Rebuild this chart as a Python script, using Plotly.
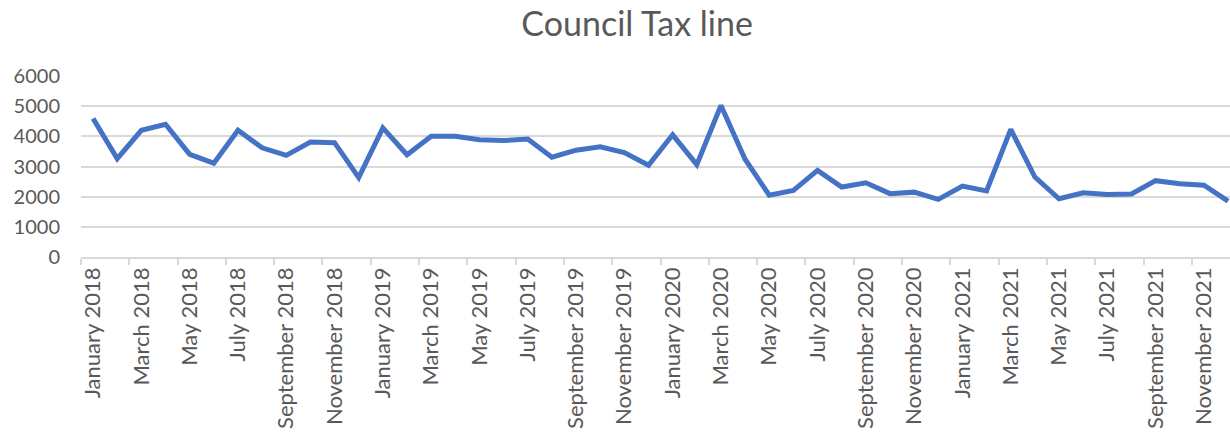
import plotly.graph_objects as go

months = ["January", "February", "March", "April", "May", "June", "July",
          "August", "September", "October", "November", "December"]
years = [2018, 2019, 2020, 2021]
categories = [f"{m} {y}" for y in years for m in months]

council_tax = [
    4590, 3260, 4200, 4400, 3400, 3110, 4200, 3620, 3370, 3810, 3790, 2630,
    4280, 3390, 4000, 4000, 3890, 3860, 3910, 3310, 3540, 3650, 3460, 3040,
    4050, 3060, 5020, 3240, 2050, 2210, 2870, 2320, 2460, 2100, 2150, 1910,
    2350, 2190, 4230, 2650, 1930, 2130, 2070, 2090, 2530, 2430, 2380, 1850,
]

y_ticks = [0, 1000, 2000, 3000, 4000, 5000, 6000]

fig = go.Figure()
fig.add_trace(go.Scatter(
    x=categories, y=council_tax, mode="lines",
    line=dict(color="#4472C4", width=5), showlegend=False,
))

font_family = "Lato, 'Open Sans', sans-serif"
fig.update_layout(
    width=1230, height=436,
    margin=dict(l=81, r=0, t=76, b=179, autoexpand=False),
    paper_bgcolor="white", plot_bgcolor="white",
    title=dict(text="Council Tax line", x=0.518, xanchor="center", xref="container",
               y=0.944, yanchor="middle", yref="container",
               font=dict(family=font_family, size=34, color="#595959")),
    font=dict(family=font_family, color="#595959"),
)
fig.update_xaxes(
    type="category", range=[-0.5, 47.08], dtick=2, tickson="boundaries",
    tickangle=-90, tickfont=dict(size=22, color="#595959"),
    showgrid=False, showline=True, linecolor="#d9d9d9", linewidth=1.5,
    ticks="outside", ticklen=6, tickcolor="#d9d9d9", tickwidth=1.5,
    zeroline=False, automargin=False,
)
fig.update_yaxes(
    range=[0, 6000], tickvals=y_ticks, tickfont=dict(size=20, color="#595959"),
    showgrid=True, gridcolor="#d9d9d9", gridwidth=1.5, zeroline=False,
    showline=False, ticklabelstandoff=20, automargin=False,
)

# remove the browser's default 8px page margin so the figure fills the window
fig.write_html("out.html", config={"displayModeBar": False},
               post_script="document.body.style.margin='0';")
